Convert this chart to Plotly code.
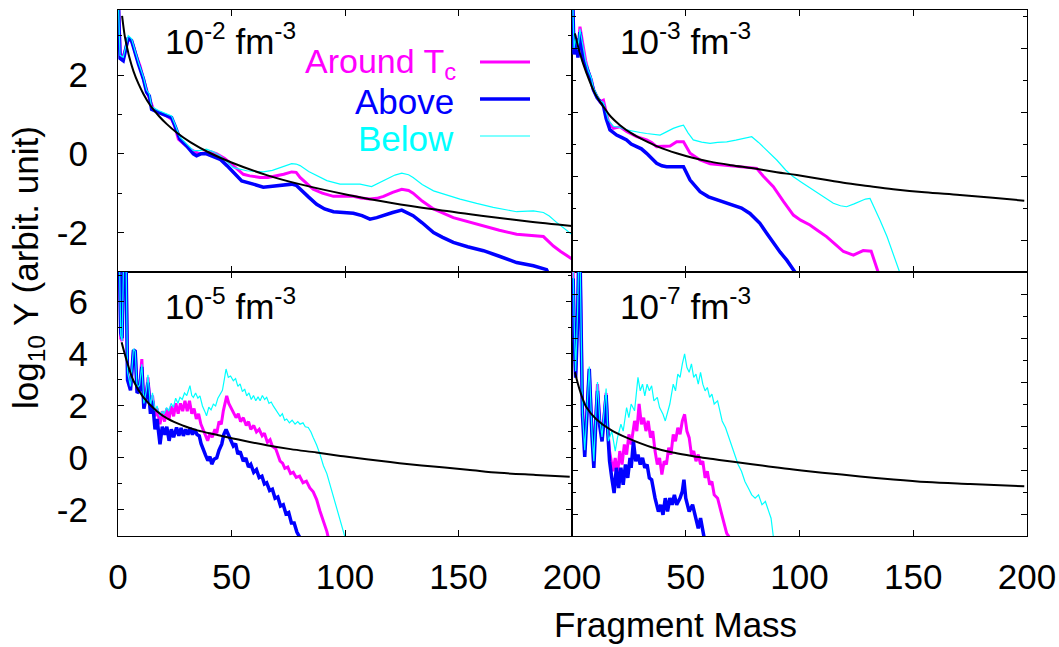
import plotly.graph_objects as go

W, H = 1059, 647

# ---------------- data ----------------
MASS_TICKS = [0, 50, 100, 150, 200]

TL_AROUND = [(0.2,3.8),(1.0,2.6),(1.8,2.36),(3.0,2.6),(4.5,2.91),(6.0,2.85),(6.8,2.74),(8.0,2.5),(9.7,2.23),(11.2,1.9),(13.4,1.47),(15.6,1.13),(18.0,1.05),(21.4,0.96),(23.6,0.88),(25.0,0.7),(26.6,0.37),(29.0,0.25),(31.7,0.12),(34.0,0.05),(36.0,0.0),(39.0,0.03),(41.0,0.05),(43.5,0.0),(47.0,-0.12),(50.8,-0.30),(55.2,-0.52),(58.0,-0.56),(62.6,-0.60),(66.0,-0.6),(70.0,-0.56),(73.0,-0.52),(76.5,-0.46),(78.5,-0.47),(80.2,-0.60),(83.0,-0.75),(86.0,-0.90),(90.0,-1.0),(94.9,-1.08),(99.0,-1.08),(103.7,-1.08),(107.0,-1.12),(111.0,-1.15),(114.0,-1.13),(117.0,-1.08),(121.0,-0.98),(125.0,-0.90),(128.0,-0.93),(130.0,-1.0),(134.0,-1.2),(139.0,-1.40),(147.7,-1.62),(155.0,-1.74),(161.0,-1.83),(168.0,-1.94),(175.6,-2.04),(183.0,-2.08),(187.4,-2.10),(191.8,-2.34),(195.0,-2.48),(199.0,-2.63),(200.0,-2.67)]
TL_ABOVE = [(0.2,3.8),(0.9,2.42),(2.3,2.36),(4.5,2.95),(6.0,2.87),(7.5,2.53),(9.0,2.28),(11.2,1.9),(12.6,1.56),(13.8,1.47),(14.8,1.13),(17.8,1.05),(21.4,0.98),(23.6,0.92),(25.1,0.71),(27.3,0.37),(30.2,0.2),(33.2,0.0),(34.6,-0.05),(36.5,0.0),(39.0,0.0),(41.0,-0.05),(43.0,-0.08),(45.0,-0.14),(48.0,-0.3),(50.8,-0.47),(54.5,-0.69),(59.6,-0.77),(64.0,-0.85),(67.0,-0.83),(70.0,-0.81),(73.0,-0.79),(76.5,-0.77),(78.5,-0.8),(80.2,-0.9),(84.0,-1.1),(87.5,-1.28),(91.0,-1.4),(94.9,-1.47),(99.0,-1.49),(103.7,-1.51),(107.5,-1.57),(111.0,-1.66),(114.0,-1.62),(117.0,-1.56),(121.0,-1.49),(125.0,-1.43),(128.0,-1.5),(130.0,-1.57),(134.0,-1.75),(139.0,-2.0),(143.0,-2.12),(147.7,-2.25),(154.0,-2.36),(161.0,-2.46),(168.0,-2.6),(175.6,-2.76),(183.0,-2.84),(188.8,-2.94),(190.0,-3.1)]
TL_BELOW = [(0.2,3.8),(0.9,2.5),(2.3,2.45),(4.5,3.0),(6.0,2.92),(7.5,2.6),(9.0,2.33),(11.2,1.95),(12.6,1.62),(13.8,1.52),(14.8,1.2),(17.8,1.1),(21.4,1.02),(23.6,0.96),(25.1,0.75),(27.3,0.42),(30.2,0.25),(33.2,0.08),(36.0,0.08),(39.0,0.12),(42.0,0.05),(45.0,-0.05),(48.0,-0.2),(50.8,-0.35),(56.7,-0.43),(64.0,-0.46),(68.0,-0.42),(71.4,-0.35),(74.0,-0.29),(76.5,-0.25),(78.5,-0.26),(80.2,-0.30),(84.0,-0.45),(87.5,-0.56),(92.0,-0.68),(97.8,-0.77),(102.0,-0.77),(106.6,-0.77),(111.7,-0.83),(115.0,-0.74),(118.4,-0.64),(122.0,-0.54),(125.0,-0.49),(128.0,-0.53),(130.0,-0.60),(134.0,-0.78),(139.0,-0.94),(145.0,-1.05),(150.7,-1.15),(158.0,-1.26),(165.3,-1.36),(175.6,-1.47),(180.0,-1.46),(183.0,-1.45),(187.4,-1.49),(190.0,-1.58),(193.2,-1.74),(196.0,-1.86),(199.0,-2.0),(200.0,-2.05)]
TL_FIT = [(1.8,3.5),(3,2.98),(4,2.7),(5,2.45),(6.8,2.1),(9,1.78),(11.2,1.52),(14.1,1.24),(18,0.96),(21.4,0.76),(25.8,0.54),(32,0.29),(40.5,0.02),(50,-0.22),(65.5,-0.54),(80,-0.77),(102,-1.05),(120,-1.24),(139,-1.41),(160,-1.57),(180,-1.71),(200,-1.83)]

TR_AROUND = [(0.4,5.3),(0.9,3.94),(1.8,4.25),(2.6,3.9),(3.5,4.67),(5.0,3.94),(6.0,3.6),(7.2,3.26),(8.6,3.0),(9.4,2.69),(10.5,2.55),(12.3,2.32),(13.8,2.37),(15.0,1.95),(16.0,1.70),(18.2,1.49),(21.1,1.54),(24.0,1.39),(28.4,1.23),(32.8,1.13),(35.0,1.05),(37.2,0.92),(40.0,0.93),(43.1,0.94),(46.0,1.07),(49.0,1.07),(51.9,0.71),(56.3,0.50),(60.7,0.38),(64.0,0.36),(68.0,0.34),(75.3,0.29),(81.2,0.24),(84.0,0.0),(88.5,-0.33),(93.0,-0.8),(97.3,-1.22),(100.5,-1.38),(104.6,-1.53),(108.0,-1.7),(112.0,-1.90),(116.0,-2.15),(119.3,-2.36),(123.7,-2.47),(128.0,-2.33),(131.5,-2.35),(134.7,-3.0),(135.5,-3.2)]
TR_ABOVE = [(0.4,5.3),(0.9,3.8),(1.8,4.3),(2.6,3.7),(3.5,4.5),(5.0,3.6),(6.4,3.4),(7.9,3.10),(9.4,2.7),(11.0,2.45),(13.8,2.2),(15.0,1.8),(16.7,1.44),(19.6,1.28),(22.0,1.2),(24.0,1.13),(26.0,1.0),(28.4,0.92),(30.5,0.85),(32.8,0.71),(35.0,0.55),(37.2,0.40),(39.5,0.32),(41.6,0.29),(46.0,0.29),(49.0,0.29),(51.9,-0.125),(56.3,-0.49),(60.0,-0.65),(62.1,-0.70),(66.0,-0.8),(70.9,-0.91),(74.5,-1.0),(78.2,-1.17),(82.6,-1.48),(85.5,-1.78),(88.5,-2.10),(91.5,-2.38),(94.4,-2.63),(98.0,-3.0),(99.0,-3.2)]
TR_BELOW = [(0.4,5.3),(0.9,4.0),(1.8,4.4),(2.6,3.95),(3.5,4.6),(5.0,3.95),(6.0,3.6),(7.2,3.3),(8.6,3.05),(9.4,2.75),(10.5,2.6),(12.3,2.35),(13.8,2.3),(15.0,1.95),(16.0,1.75),(18.2,1.55),(21.1,1.52),(24.0,1.44),(27.0,1.39),(30.0,1.36),(32.8,1.33),(35.5,1.3),(38.7,1.28),(41.5,1.38),(44.5,1.49),(47.0,1.55),(49.0,1.59),(51.0,1.35),(53.3,1.13),(57.0,1.06),(60.7,1.02),(64.0,1.05),(68.0,1.07),(72.0,1.12),(76.0,1.18),(79.0,1.23),(82.0,1.05),(85.6,0.81),(90.0,0.5),(94.0,0.18),(97.3,-0.02),(101.0,-0.2),(106.0,-0.44),(110.0,-0.63),(114.9,-0.85),(118.0,-0.93),(120.7,-0.96),(124.0,-0.87),(126.6,-0.80),(129.0,-0.72),(131.0,-0.70),(133.0,-1.0),(135.4,-1.38),(138.5,-1.9),(141.2,-2.42),(144.2,-3.0),(145.0,-3.2)]
TR_FIT = [(1.3,4.46),(3.5,3.83),(6.4,3.21),(10.1,2.58),(13.8,2.17),(17,1.86),(21.1,1.59),(26,1.34),(31.4,1.13),(38,0.91),(46,0.71),(53,0.57),(60.7,0.45),(70,0.34),(79.7,0.24),(90,0.12),(98.8,0.03),(110,-0.1),(119.3,-0.21),(130,-0.31),(141.2,-0.41),(155,-0.51),(170.5,-0.59),(185,-0.68),(198.8,-0.77)]

BL_AROUND = [(0.0,7.3),(0.7,7.3),(1.2,4.6),(1.8,4.5),(2.4,7.3),(3.6,7.3),(4.2,3.2),(5.5,2.7),(6.8,4.1),(7.6,4.1),(8.4,2.6),(9.5,2.7),(10.5,3.8),(11.4,2.0),(12.5,2.5),(13.2,3.1),(14.3,1.9),(15.2,2.4),(16.3,1.6),(17.2,1.9),(18.5,1.3),(19.5,1.8),(20.5,1.4),(21.5,1.9),(22.5,1.5),(23.5,2.0),(24.5,1.6),(25.5,2.1),(26.5,1.7),(27.5,2.1),(28.5,1.8),(29.5,2.2),(30.5,1.8),(31.5,2.2),(32.5,1.7),(33.5,1.9),(34.5,1.5),(35.5,1.7),(36.5,1.3),(37.5,1.1),(38.5,0.9),(39.5,0.66),(40.5,0.95),(41.5,0.8),(42.7,1.1),(43.5,0.95),(44.5,1.4),(45.5,1.3),(46.4,1.81),(47.9,2.39),(48.8,2.1),(50.0,1.9),(50.8,1.81),(52.0,1.55),(53.0,1.7),(54.0,1.4),(55.2,1.55),(56.5,1.25),(57.5,1.4),(58.5,1.1),(59.8,1.25),(61.0,1.0),(62.2,1.1),(63.5,0.85),(64.5,0.95),(65.8,0.6),(67.0,0.7),(68.0,0.45),(69.5,0.35),(70.5,0.05),(71.4,-0.12),(72.5,-0.2),(73.5,-0.4),(74.8,-0.35),(76.0,-0.6),(77.2,-0.55),(78.5,-0.75),(80.0,-0.7),(81.5,-0.95),(83.0,-0.89),(84.5,-1.15),(86.0,-1.3),(87.5,-1.6),(89.0,-2.05),(90.5,-2.4),(92.0,-2.82),(93.0,-3.2)]
BL_ABOVE = [(0.0,7.3),(0.7,7.3),(1.2,4.8),(1.8,4.6),(2.4,7.3),(3.6,7.3),(4.2,3.0),(5.5,2.6),(6.8,4.15),(7.6,4.1),(8.4,2.5),(9.5,2.6),(10.5,3.5),(11.4,1.9),(12.5,2.4),(13.2,2.9),(14.3,1.7),(15.2,2.2),(16.3,1.1),(17.2,1.5),(18.5,0.53),(19.5,1.2),(20.7,0.9),(21.5,1.2),(22.5,0.66),(23.5,1.1),(24.5,0.8),(25.8,1.17),(26.8,0.85),(27.8,1.15),(28.8,0.85),(29.8,1.1),(30.8,0.9),(31.8,1.15),(32.8,0.9),(33.8,1.1),(34.8,0.9),(35.8,0.85),(36.6,0.55),(37.6,0.27),(38.6,0.1),(39.6,-0.1),(40.5,0.05),(41.3,-0.24),(42.3,-0.05),(43.5,0.01),(44.5,0.3),(45.7,0.53),(46.6,0.9),(47.6,1.1),(48.6,0.85),(49.6,0.7),(50.8,0.46),(51.8,0.55),(52.8,0.15),(53.8,0.25),(55.2,-0.12),(56.3,0.0),(57.5,-0.35),(58.5,-0.25),(59.8,-0.55),(61.0,-0.45),(62.2,-0.75),(63.4,-0.7),(64.5,-1.0),(65.5,-0.95),(66.8,-1.25),(68.0,-1.2),(69.2,-1.55),(70.4,-1.5),(71.6,-1.85),(72.8,-1.8),(74.0,-2.15),(75.2,-2.1),(76.4,-2.5),(77.6,-2.5),(78.8,-2.85),(80.2,-3.05),(81.0,-3.2)]
BL_BELOW = [(0.0,7.3),(0.7,7.3),(1.2,4.7),(1.8,4.5),(2.4,7.3),(3.6,7.3),(4.2,3.3),(5.5,2.75),(6.8,4.2),(7.6,4.1),(8.4,2.7),(9.5,2.8),(10.5,3.6),(11.4,2.1),(12.5,2.6),(13.2,3.2),(14.3,2.0),(15.2,2.5),(16.3,1.81),(17.2,2.0),(18.5,1.6),(19.5,1.8),(20.2,1.69),(21.4,1.94),(22.4,1.8),(23.4,2.1),(24.4,1.95),(25.4,2.3),(26.4,2.1),(27.3,2.33),(28.3,2.25),(29.3,2.5),(30.3,2.4),(31.7,2.78),(32.5,2.4),(33.2,2.33),(34.2,2.5),(35.2,2.3),(36.1,2.39),(37.2,2.0),(38.2,1.8),(39.0,1.62),(40.0,1.95),(41.0,1.85),(42.0,2.07),(43.0,2.0),(44.0,2.3),(45.0,2.46),(46.0,2.6),(46.8,3.0),(47.6,3.42),(48.6,3.1),(49.6,3.15),(50.8,2.97),(51.8,3.05),(52.8,2.75),(53.8,2.85),(54.8,2.55),(55.8,2.65),(56.7,2.39),(57.7,2.5),(58.7,2.25),(59.7,2.4),(60.7,2.2),(61.7,2.35),(62.6,2.2),(63.6,2.4),(64.6,2.25),(65.5,2.33),(66.5,2.1),(67.5,2.15),(68.4,2.0),(69.4,1.85),(70.4,1.75),(71.4,1.6),(72.4,1.7),(73.4,1.45),(74.3,1.5),(75.5,1.35),(76.7,1.45),(78.0,1.3),(79.2,1.4),(80.2,1.30),(81.5,1.35),(82.5,1.2),(83.8,1.17),(85.0,1.0),(86.0,0.79),(87.5,0.5),(89.0,0.14),(90.5,-0.3),(92.0,-0.6),(93.4,-1.02),(95.5,-1.7),(97.8,-2.30),(100.0,-3.0),(100.5,-3.2)]
BL_FIT = [(1.6,4.45),(3.8,3.75),(6.8,2.97),(11.2,2.33),(17,1.81),(22,1.5),(28.8,1.24),(35,1.06),(43.5,0.89),(55,0.67),(65.5,0.49),(76,0.34),(87.5,0.21),(98,0.08),(109.5,-0.05),(124,-0.2),(139,-0.33),(154,-0.45),(168,-0.57),(184,-0.65),(199,-0.72)]

BR_EARLY_MASS = [0.0, 0.5, 1.0, 1.6, 2.4, 2.9, 3.6, 4.6, 5.6, 6.8, 7.6, 8.8, 9.6, 10.6, 11.2, 12.2, 13.2, 14.2, 15.0, 15.8]
BR_EARLY_AROUND = [9.3, 9.0, 6.0, 4.4, 6.8, 9.3, 9.3, 2.8, 1.0, 3.4, 4.5, 1.8, 0.6, 2.8, 3.9, 2.2, 1.6, 2.6, 3.5, 1.8]
BR_EARLY_ABOVE = [8.6, 8.7, 6.0, 4.2, 6.5, 9.3, 9.3, 2.5, 0.6, 3.2, 4.6, 1.5, 0.1, 2.5, 3.6, 2.0, 1.3, 2.4, 3.4, 1.6]
BR_EARLY_BELOW = [9.3, 9.3, 6.5, 4.5, 7.0, 9.3, 9.3, 2.6, 0.9, 3.3, 4.7, 1.7, 0.4, 2.9, 4.0, 2.3, 1.5, 2.8, 3.7, 1.6]
BR_AROUND = [(16.5,0.86),(18,-0.06),(19,0.55),(20,-0.21),(21,0.86),(22,0.25),(23,1.16),(24,0.7),(25,1.62),(26,1.16),(27.5,2.23),(28.5,1.77),(29.5,3.0),(30.5,2.08),(31.5,2.38),(32.5,1.77),(33.5,2.23),(34.5,1.47),(35.5,1.77),(36.5,0.86),(37.5,0.25),(38.5,0.55),(39.5,-0.21),(40.5,0.4),(41.5,0.25),(42.5,1.01),(43.5,0.7),(44.5,1.62),(45.5,1.31),(46.5,1.92),(47.5,1.62),(48.5,2.23),(49.5,2.53),(50.5,1.77),(51.5,1.47),(52.5,0.7),(53.5,0.86),(54.5,0.4),(55.5,0.7),(56.5,0.25),(57.5,0.4),(58.5,-0.36),(59.5,-0.06),(60.5,-0.67),(61.5,-0.52),(62.5,-1.13),(64,-1.28),(65.5,-1.89),(67,-2.5),(68,-2.88),(69,-3.03),(69.5,-3.3)]
BR_ABOVE = [(16.5,0.4),(17.5,-0.36),(18.5,-1.05),(19.5,0.1),(20.5,-0.82),(21.5,0.1),(22.5,-0.67),(23.5,0.25),(24.5,-0.36),(25.5,0.55),(26,0.1),(27,1.3),(28,0.4),(29,0.7),(30,0.25),(31,0.55),(32,0.1),(33,0.25),(34,-0.36),(35,-0.44),(36.5,-1.28),(38,-1.89),(39,-1.58),(40,-2.04),(41,-1.28),(42,-1.89),(43,-1.28),(44,-1.58),(45,-1.13),(46,-1.58),(47.5,-1.28),(48.5,-0.97),(49.2,-0.44),(50,-1.28),(51.5,-1.89),(53,-1.58),(54.5,-2.19),(55.5,-2.65),(56.5,-2.19),(57.5,-2.65),(58,-3.03),(58.3,-3.3)]
BR_BELOW = [(16,1.31),(17.5,1.77),(19,0.86),(20,1.47),(21.5,2.08),(22.5,1.77),(24,2.84),(25,2.38),(26,3.0),(27.5,2.69),(29,4.21),(30,3.6),(31,3.9),(32,3.37),(33,3.9),(34,3.6),(35,3.83),(36,3.14),(37.5,3.3),(38.5,2.84),(40,2.53),(41,2.23),(42,2.69),(43,3.0),(44.5,3.9),(45.5,3.6),(46.5,4.36),(47.5,4.21),(48.5,4.82),(49.5,5.28),(50.5,4.67),(51.5,4.44),(52.5,4.82),(53.5,4.21),(54.5,4.36),(55.5,3.9),(56.5,4.44),(57.5,3.9),(58.5,3.6),(59.5,3.75),(60.5,3.3),(61.5,3.45),(62.5,3.0),(64,3.14),(65,2.69),(66,2.23),(67.5,1.92),(69,1.47),(70,1.16),(71.5,0.7),(73,0.25),(74.5,-0.06),(76,-0.52),(77.5,-0.82),(79,-1.13),(80.5,-1.28),(82,-1.13),(83.5,-1.58),(85,-1.43),(86.5,-1.89),(87.5,-2.19),(88.5,-3.03),(89,-3.3)]
BR_FIT = [(1.3,4.44),(3.5,3.60),(6.4,2.84),(10.8,2.30),(16.7,1.85),(24,1.47),(35.7,1.01),(45,0.78),(53.3,0.63),(62,0.5),(70.9,0.37),(85,0.18),(97.3,0.02),(110,-0.12),(126.6,-0.29),(140,-0.42),(155.9,-0.55),(175,-0.64),(198.8,-0.74)]

PANEL_LABELS = ["10<sup>-2</sup> fm<sup>-3</sup>", "10<sup>-3</sup> fm<sup>-3</sup>",
                "10<sup>-5</sup> fm<sup>-3</sup>", "10<sup>-7</sup> fm<sup>-3</sup>"]
SERIES_NAMES = ["Around T<sub>c</sub>", "Above", "Below"]

# ---------------- styling ----------------
FONT = "Liberation Sans, Arial, Helvetica, sans-serif"
C_AROUND, C_ABOVE, C_BELOW = "#ff00ff", "#0000ff", "#00ffff"
LW = {"around": 3.0, "above": 3.5, "below": 1.2, "fit": 2.0}

def fx(px):
    return px / W

def fy(py):
    return 1 - py / H

XL = (118, 572)
XR = (572, 1027)
YT = (10, 272)
YB = (272, 536)


def unzip(pairs):
    return [p[0] for p in pairs], [p[1] for p in pairs]

fig = go.Figure()

def add_panel(xa, ya, around, above, below, fit):
    for (xs, ys), col, lw in [(around, C_AROUND, LW["around"]),
                               (above, C_ABOVE, LW["above"]),
                               (below, C_BELOW, LW["below"])]:
        fig.add_trace(go.Scatter(x=xs, y=ys, mode="lines", xaxis=xa, yaxis=ya,
                                 line=dict(color=col, width=lw), showlegend=False,
                                 hoverinfo="skip"))
    fxs, fys = unzip(fit)
    fig.add_trace(go.Scatter(x=fxs, y=fys, mode="lines", xaxis=xa, yaxis=ya,
                             line=dict(color="black", width=LW["fit"], shape="spline"),
                             showlegend=False, hoverinfo="skip"))

add_panel("x", "y", unzip(TL_AROUND), unzip(TL_ABOVE), unzip(TL_BELOW), TL_FIT)
add_panel("x2", "y2", unzip(TR_AROUND), unzip(TR_ABOVE), unzip(TR_BELOW), TR_FIT)
add_panel("x3", "y3", unzip(BL_AROUND), unzip(BL_ABOVE), unzip(BL_BELOW), BL_FIT)

def br_series(early_y, later):
    lx, ly = unzip(later)
    return BR_EARLY_MASS + lx, early_y + ly

add_panel("x4", "y4", br_series(BR_EARLY_AROUND, BR_AROUND),
          br_series(BR_EARLY_ABOVE, BR_ABOVE), br_series(BR_EARLY_BELOW, BR_BELOW), BR_FIT)

TICKFONT = dict(family=FONT, size=35, color="black")

def xaxis(dom, anchor, labels):
    return dict(domain=[fx(dom[0]), fx(dom[1])], anchor=anchor, range=[0, 200],
                tickmode="array", tickvals=MASS_TICKS,
                ticktext=labels if labels else [""] * len(MASS_TICKS),
                showticklabels=labels is not None, automargin=False,
                ticks="inside", ticklen=6, tickwidth=1.2, tickcolor="black",
                showline=True, linecolor="black", linewidth=1.1, mirror="allticks",
                showgrid=False, zeroline=False, tickfont=TICKFONT, ticklabelstandoff=10)

def yaxis(dom, anchor, rng, labels):
    major = [v for v in range(-2, 10, 2) if rng[0] <= v <= rng[1]]
    minor = [v for v in range(-3, 10) if rng[0] <= v <= rng[1] and v % 2 != 0]
    return dict(domain=[fy(dom[1]), fy(dom[0])], anchor=anchor, range=rng,
                tickmode="array", tickvals=major, ticktext=[str(v) for v in major],
                showticklabels=labels, automargin=False,
                ticks="inside", ticklen=6, tickwidth=1.2, tickcolor="black",
                minor=dict(tickmode="array", tickvals=minor, ticks="inside", ticklen=3.5,
                           tickcolor="black", tickwidth=1.2),
                showline=True, linecolor="black", linewidth=1.1, mirror="allticks",
                showgrid=False, zeroline=False, tickfont=TICKFONT, ticklabelstandoff=22)

bottom_left_labels = [str(v) for v in MASS_TICKS]
bottom_right_labels = [""] + [str(v) for v in MASS_TICKS[1:]]

fig.update_layout(
    width=W, height=H, margin=dict(l=0, r=0, t=0, b=0, autoexpand=False),
    paper_bgcolor="white", plot_bgcolor="white",
    xaxis=xaxis(XL, "y", None), yaxis=yaxis(YT, "x", [-3, 3.65], True),
    xaxis2=xaxis(XR, "y2", None), yaxis2=yaxis(YT, "x2", [-3, 5.19], False),
    xaxis3=xaxis(XL, "y3", bottom_left_labels), yaxis3=yaxis(YB, "x3", [-3, 7.15], True),
    xaxis4=xaxis(XR, "y4", bottom_right_labels), yaxis4=yaxis(YB, "x4", [-3, 9], False),
)

ann = []
label_pos = [(163, 39), (618, 39), (163, 304), (618, 304)]
for txt, (px, py) in zip(PANEL_LABELS, label_pos):
    ann.append(dict(text=txt, x=fx(px), y=fy(py), xref="paper", yref="paper",
                    xanchor="left", yanchor="middle", showarrow=False,
                    font=dict(family=FONT, size=35, color="black")))

legend_rows = [(SERIES_NAMES[0], C_AROUND, LW["around"], 63, 458, 34),
               (SERIES_NAMES[1], C_ABOVE, LW["above"], 101, 456, 35),
               (SERIES_NAMES[2], C_BELOW, LW["below"], 138, 456, 35)]
shapes = []
for name, col, lw, py, right, fs in legend_rows:
    ann.append(dict(text=name, x=fx(right), y=fy(py), xref="paper", yref="paper",
                    xanchor="right", yanchor="middle", showarrow=False,
                    font=dict(family=FONT, size=fs, color=col)))
for row, ly in zip(legend_rows, [62, 99, 136]):
    shapes.append(dict(type="line", xref="paper", yref="paper",
                       x0=fx(480), x1=fx(530), y0=fy(ly), y1=fy(ly),
                       line=dict(color=row[1], width=row[2])))

ann.append(dict(text="log<sub>10</sub> Y (arbit. unit)", x=fx(28), y=fy(268),
                xref="paper", yref="paper", textangle=-90, showarrow=False,
                xanchor="center", yanchor="middle",
                font=dict(family=FONT, size=35, color="black")))
ann.append(dict(text="Fragment Mass", x=fx(675), y=fy(624), xref="paper", yref="paper",
                showarrow=False, xanchor="center", yanchor="middle",
                font=dict(family=FONT, size=35, color="black")))

fig.update_layout(annotations=ann, shapes=shapes)
fig.write_html("out.html")
